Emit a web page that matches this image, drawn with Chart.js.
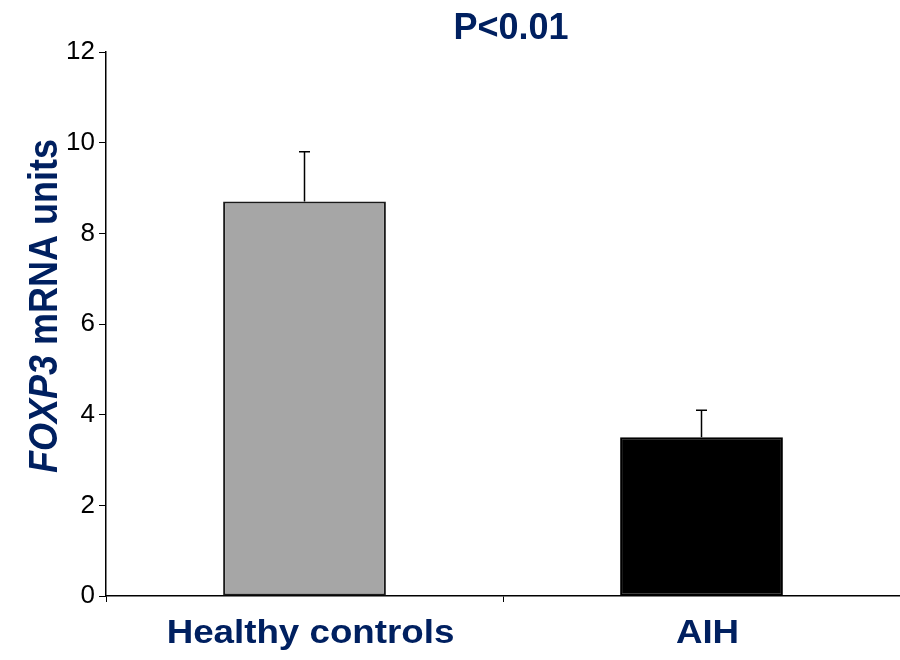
<!DOCTYPE html>
<html>
<head>
<meta charset="utf-8">
<script src="https://cdn.jsdelivr.net/npm/chart.js@4/dist/chart.umd.min.js"></script>
<style>
  html, body { margin: 0; padding: 0; background: #fff; }
  #wrap { width: 900px; height: 660px; }
</style>
</head>
<body>
<div id="wrap"><canvas id="chart" width="900" height="660"></canvas></div>
<script>
const categories = ["Healthy controls", "AIH"];
const means = [8.7, 3.5];
const errors = [1.1, 0.6];
const barColors = ["#a6a6a6", "#000000"];
const barBorders = ["#1a1a1a", "#000000"];
const yTicks = [0, 2, 4, 6, 8, 10, 12];

const navy = "#002060";
const fontFamily = "'Liberation Sans', Arial, sans-serif";

// upper error bars with a small cap
const errorBars = {
    id: "errorBars",
    afterDatasetsDraw(chart) {
        const ctx = chart.ctx;
        const y = chart.scales.y;
        const meta = chart.getDatasetMeta(0);
        ctx.save();
        ctx.strokeStyle = "#000";
        ctx.lineWidth = 1.5;
        meta.data.forEach((bar, i) => {
            const top = y.getPixelForValue(means[i] + errors[i]);
            ctx.beginPath();
            ctx.moveTo(bar.x, bar.y);
            ctx.lineTo(bar.x, top);
            ctx.moveTo(bar.x - 5.5, top);
            ctx.lineTo(bar.x + 5.5, top);
            ctx.stroke();
        });
        ctx.restore();
    }
};

// texts: title, y title with italic gene name, category labels
const texts = {
    id: "texts",
    afterDraw(chart) {
        const ctx = chart.ctx;
        const x = chart.scales.x;
        ctx.save();
        ctx.fillStyle = navy;
        ctx.textBaseline = "alphabetic";

        // title
        ctx.font = "bold 36px " + fontFamily;
        ctx.textAlign = "center";
        ctx.fillText("P<0.01", 511, 39);

        // y axis title
        ctx.save();
        ctx.translate(57, 306);
        ctx.rotate(-Math.PI / 2);
        ctx.scale(1, 1.12);
        const part1 = "FOXP3";
        const part2 = " mRNA units";
        ctx.font = "italic bold 36px " + fontFamily;
        const w1 = ctx.measureText(part1).width;
        ctx.font = "bold 36px " + fontFamily;
        const w2 = ctx.measureText(part2).width;
        const start = -(w1 + w2) / 2;
        ctx.textAlign = "left";
        ctx.font = "italic bold 36px " + fontFamily;
        ctx.fillText(part1, start, 0);
        ctx.font = "bold 36px " + fontFamily;
        ctx.fillText(part2, start + w1, 0);
        ctx.restore();

        // category labels
        ctx.font = "bold 34px " + fontFamily;
        ctx.textAlign = "center";
        categories.forEach((c, i) => {
            const px = x.getPixelForValue(i);
            ctx.save();
            ctx.translate(px + 6, 643);
            ctx.scale(1.08, 1);
            ctx.fillText(c, 0, 0);
            ctx.restore();
        });
        ctx.restore();
    }
};

new Chart(document.getElementById("chart"), {
    type: "bar",
    data: {
        labels: categories,
        datasets: [{
            data: means,
            backgroundColor: barColors,
            borderColor: barBorders,
            borderWidth: 2,
            borderSkipped: false,
            categoryPercentage: 1,
            barPercentage: 0.41
        }]
    },
    options: {
        responsive: false,
        animation: false,
        layout: { padding: { top: 52, right: 0, left: 0, bottom: 0 } },
        plugins: {
            legend: { display: false },
            title: { display: false },
            tooltip: { enabled: false }
        },
        scales: {
            x: {
                grid: {
                    display: true,
                    offset: true,
                    drawOnChartArea: false,
                    drawTicks: true,
                    tickLength: 6,
                    color: "#000"
                },
                border: { display: true, color: "#000", width: 1.5 },
                ticks: { display: false },
                afterFit(scale) { scale.height = 64; }
            },
            y: {
                min: 0,
                max: 12,
                afterBuildTicks(scale) {
                    scale.ticks = yTicks.map(v => ({ value: v }));
                },
                grid: {
                    display: true,
                    drawOnChartArea: false,
                    drawTicks: true,
                    tickLength: 7,
                    color: "#000"
                },
                border: { display: true, color: "#000", width: 1.5 },
                ticks: {
                    color: "#000",
                    padding: 4,
                    font: { size: 26, family: fontFamily }
                },
                afterFit(scale) { scale.width = 106; }
            }
        }
    },
    plugins: [errorBars, texts]
});
</script>
</body>
</html>
